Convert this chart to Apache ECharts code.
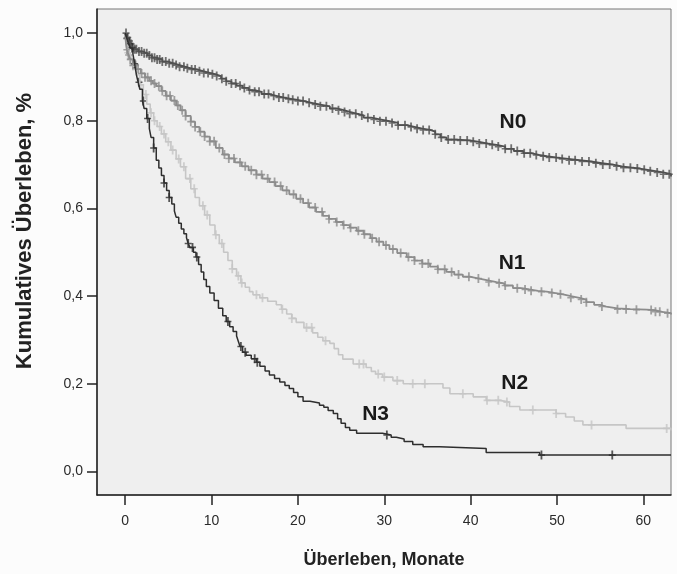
<!DOCTYPE html>
<html>
<head>
<meta charset="utf-8">
<script src="https://cdn.jsdelivr.net/npm/echarts@6/dist/echarts.min.js"></script>
<style>
html, body { margin: 0; padding: 0; background: #fcfcfc; }
#chart { width: 677px; height: 574px; }
</style>
</head>
<body>
<div id="chart"></div>
<script>
// axis ticks
var xTicks = [0, 10, 20, 30, 40, 50, 60];
var yTicks = [0, 0.2, 0.4, 0.6, 0.8, 1.0];

// Kaplan-Meier steps (Monate / kumulatives Ueberleben) and censored times
var n0Time = [0, 0.2, 0.4, 0.6, 0.8, 1.0, 1.5, 2.0, 2.6, 3.1, 3.6, 4.3, 5.0, 5.6, 6.3, 7.0, 7.5, 8.3, 9.0, 9.8, 10.5, 11.1, 11.7, 12.3, 12.9, 13.6, 14.3, 15.0, 15.8, 16.7, 17.5, 18.4, 19.2, 19.8, 20.7, 21.6, 22.6, 23.7, 24.5, 25.3, 26.0, 26.8, 27.6, 28.5, 29.5, 30.6, 31.6, 32.6, 33.5, 34.4, 35.3, 35.9, 36.5, 37.2, 38.4, 39.9, 41.0, 42.0, 43.0, 44.0, 45.0, 46.1, 47.0, 47.9, 48.8, 50.0, 51.3, 52.6, 53.9, 55.2, 56.5, 57.5, 58.6, 59.6, 60.5, 61.4, 62.3, 63.2];
var n0Surv = [1.0, 0.99, 0.982, 0.975, 0.968, 0.963, 0.958, 0.954, 0.949, 0.944, 0.94, 0.935, 0.931, 0.927, 0.923, 0.92, 0.917, 0.913, 0.909, 0.906, 0.902, 0.896, 0.89, 0.885, 0.88, 0.875, 0.87, 0.866, 0.861, 0.857, 0.853, 0.85, 0.848, 0.845, 0.841, 0.837, 0.833, 0.828, 0.824, 0.82, 0.816, 0.812, 0.807, 0.803, 0.799, 0.795, 0.79, 0.786, 0.782, 0.779, 0.775, 0.769, 0.762, 0.757, 0.755, 0.752, 0.748, 0.745, 0.741, 0.736, 0.731, 0.726, 0.722, 0.719, 0.716, 0.713, 0.71, 0.707, 0.703, 0.7, 0.696, 0.693, 0.691, 0.688, 0.685, 0.682, 0.678, 0.673];
var n0Cens = [0.1, 0.3, 0.5, 0.7, 0.9, 1.1, 1.3, 1.6, 1.9, 2.2, 2.5, 2.8, 3.1, 3.4, 3.7, 4.0, 4.3, 4.7, 5.1, 5.5, 5.9, 6.3, 6.8, 7.2, 7.7, 8.1, 8.6, 9.1, 9.6, 10.1, 10.6, 11.2, 11.7, 12.3, 12.8, 13.3, 13.8, 14.4, 15.0, 15.5, 16.1, 16.6, 17.2, 17.8, 18.3, 18.9, 19.4, 20.0, 20.6, 21.3, 22.0, 22.6, 23.3, 24.0, 24.7, 25.4, 26.0, 26.7, 27.4, 28.1, 28.8, 29.5, 30.2, 30.9, 31.6, 32.4, 33.1, 33.8, 34.5, 35.2, 35.9, 36.6, 37.4, 38.1, 38.8, 39.6, 40.3, 41.0, 41.8, 42.5, 43.2, 44.0, 44.7, 45.4, 46.2, 46.9, 47.6, 48.4, 49.1, 49.9, 50.6, 51.4, 52.1, 52.9, 53.7, 54.5, 55.3, 56.1, 56.9, 57.7, 58.5, 59.3, 60.1, 60.8, 61.6, 62.3, 63.0];

var n1Time = [0, 0.1, 0.2, 0.4, 0.6, 0.9, 1.3, 1.8, 2.3, 2.8, 3.2, 3.6, 4.2, 4.7, 5.3, 5.9, 6.4, 7.0, 7.6, 8.1, 8.6, 9.2, 9.8, 10.5, 11.3, 12.0, 12.7, 13.5, 14.3, 15.2, 15.9, 16.7, 17.4, 18.2, 19.0, 19.8, 20.6, 21.3, 22.1, 22.9, 23.6, 24.4, 25.2, 26.0, 26.8, 27.6, 28.4, 29.1, 29.9, 30.6, 31.5, 32.6, 33.5, 34.4, 35.3, 36.2, 37.2, 38.1, 39.1, 40.0, 41.0, 42.0, 43.0, 43.9, 44.9, 45.9, 46.8, 47.8, 48.8, 49.7, 50.7, 51.6, 52.6, 53.4, 54.3, 55.0, 55.7, 57.0, 58.5, 60.4, 61.3, 62.2, 63.2];
var n1Surv = [1.0, 0.975, 0.962, 0.95, 0.94, 0.927, 0.918, 0.908, 0.899, 0.891, 0.885, 0.879, 0.868, 0.857, 0.846, 0.835, 0.824, 0.811, 0.798, 0.786, 0.775, 0.764, 0.753, 0.738, 0.723, 0.714, 0.705, 0.696, 0.687, 0.677, 0.668, 0.66, 0.651, 0.641, 0.632, 0.622, 0.612, 0.602, 0.592, 0.583, 0.576, 0.569, 0.562, 0.556, 0.549, 0.541, 0.532, 0.524, 0.516, 0.507, 0.498, 0.489, 0.481, 0.474, 0.467, 0.461, 0.455, 0.449, 0.444, 0.44, 0.436, 0.432, 0.429, 0.424, 0.418, 0.415, 0.412, 0.41, 0.407, 0.404, 0.4, 0.396, 0.392, 0.386, 0.38, 0.376, 0.372, 0.37, 0.369, 0.368, 0.364, 0.361, 0.358];
var n1Cens = [0.2, 0.4, 0.6, 0.9, 1.2, 1.5, 1.9, 2.3, 2.6, 3.0, 3.4, 3.9, 4.3, 4.8, 5.2, 5.7, 6.1, 6.6, 7.0, 7.6, 8.1, 8.7, 9.2, 9.8, 10.3, 10.9, 11.5, 12.0, 12.6, 13.3, 13.9, 14.6, 15.2, 15.8, 16.5, 17.3, 18.0, 18.7, 19.5, 20.3, 21.2, 22.0, 22.8, 23.6, 24.5, 25.3, 26.1, 27.0, 27.7, 28.6, 29.4, 30.2, 31.0, 31.9, 32.8, 33.5, 34.4, 35.1, 36.2, 37.0, 37.8, 38.6, 39.8, 40.9, 42.1, 43.3, 44.0, 45.4, 46.3, 47.0, 48.2, 49.4, 50.4, 51.6, 52.8, 53.4, 55.2, 57.0, 58.0, 59.2, 60.9, 61.4, 61.9, 62.8];

var n2Time = [0, 0.1, 0.3, 0.6, 0.9, 1.3, 1.7, 2.1, 2.5, 2.9, 3.3, 3.7, 4.2, 4.7, 5.3, 5.9, 6.4, 7.0, 7.6, 8.1, 8.6, 9.2, 9.8, 10.4, 10.9, 11.4, 11.9, 12.4, 12.9, 13.4, 13.9, 14.4, 14.8, 15.6, 16.5, 17.5, 18.1, 18.7, 19.3, 19.8, 20.7, 21.7, 22.3, 22.9, 23.7, 24.2, 24.7, 25.2, 26.4, 27.9, 28.5, 29.0, 29.8, 31.0, 32.2, 36.8, 37.6, 40.3, 41.8, 43.4, 44.5, 45.7, 49.9, 51.0, 52.0, 53.0, 58.0, 63.2];
var n2Surv = [1.0, 0.975, 0.955, 0.94, 0.925, 0.905, 0.882, 0.86, 0.838, 0.818, 0.8, 0.787, 0.77, 0.752, 0.733, 0.713, 0.695, 0.668, 0.645, 0.625, 0.606, 0.585, 0.562, 0.54, 0.52, 0.5, 0.481, 0.462, 0.446, 0.43, 0.42, 0.41, 0.403, 0.396, 0.388, 0.38, 0.37, 0.359, 0.349, 0.34, 0.328, 0.316, 0.306, 0.298, 0.292, 0.28, 0.266, 0.256, 0.245, 0.237, 0.228, 0.222, 0.215, 0.207, 0.2, 0.19, 0.177, 0.17, 0.162, 0.158, 0.148, 0.14, 0.132, 0.124, 0.115, 0.106, 0.098, 0.093];
var n2Cens = [0.3, 0.6, 0.9, 1.2, 1.8, 2.4, 3.0, 3.4, 4.0, 4.5, 5.0, 5.5, 6.2, 6.8, 7.5, 8.0, 9.0, 9.5, 10.5, 11.2, 12.4, 13.1, 13.5, 15.2, 15.9, 18.2, 19.3, 21.0, 21.6, 23.2, 27.1, 27.6, 29.3, 30.0, 31.5, 33.3, 34.7, 39.1, 41.9, 43.2, 44.2, 47.2, 49.9, 54.0, 62.7];

var n3Time = [0, 0.2, 0.4, 0.6, 0.9, 1.1, 1.3, 1.5, 1.7, 2.0, 2.2, 2.5, 2.8, 3.0, 3.3, 3.6, 3.9, 4.2, 4.5, 4.8, 5.1, 5.4, 5.7, 5.9, 6.2, 6.5, 6.8, 7.1, 7.3, 7.5, 7.9, 8.2, 8.5, 8.8, 9.1, 9.4, 9.8, 10.3, 10.8, 11.3, 11.7, 12.1, 12.5, 12.9, 13.1, 13.3, 13.6, 14.0, 14.6, 15.2, 15.6, 16.2, 16.7, 17.3, 17.9, 18.5, 19.0, 19.5, 20.0, 20.6, 21.4, 22.5, 23.0, 23.5, 24.1, 24.6, 25.0, 25.5, 26.0, 26.8, 29.8, 30.8, 31.4, 32.3, 33.3, 34.5, 36.4, 41.8, 48.0, 63.2];
var n3Surv = [1.0, 0.988, 0.976, 0.966, 0.952, 0.93, 0.905, 0.888, 0.872, 0.845, 0.828, 0.805, 0.782, 0.762, 0.738, 0.71, 0.692, 0.675, 0.658, 0.641, 0.625, 0.61, 0.594, 0.58, 0.566, 0.553, 0.542, 0.533, 0.52, 0.511, 0.5, 0.489, 0.472, 0.455, 0.438, 0.422, 0.407, 0.39, 0.372, 0.355, 0.342, 0.33, 0.319, 0.309, 0.297, 0.285, 0.272, 0.265, 0.257, 0.249, 0.24, 0.229, 0.22, 0.212, 0.204, 0.196, 0.189, 0.18, 0.17, 0.16, 0.156, 0.151, 0.146, 0.139, 0.132, 0.12, 0.11, 0.1, 0.094, 0.087, 0.083, 0.078, 0.074, 0.068, 0.061, 0.056, 0.052, 0.043, 0.037, 0.037];
var n3Cens = [0.2, 0.5, 0.8, 1.1, 1.6, 2.1, 2.6, 3.3, 4.5, 5.1, 7.3, 7.8, 8.3, 11.9, 13.4, 13.9, 15.0, 15.3, 30.3, 48.2, 56.4];

var FONT = '"Liberation Sans", Arial, sans-serif';
var CROSS = 'path://M2,0h1.4v3.3h2v1.4h-2v3.3h-1.4v-3.3h-2v-1.4h2z';

function survAt(times, surv, t) {
    var s = surv[0];
    for (var i = 0; i < times.length; i++) {
        if (times[i] <= t) s = surv[i];
    }
    return s;
}

function buildSeries(name, times, surv, cens, color, width, label) {
    var line = {
        name: name,
        type: 'line',
        step: 'end',
        showSymbol: false,
        data: times.map(function (t, i) { return [t, surv[i]]; }),
        lineStyle: { color: color, width: width },
        markPoint: {
            symbol: 'rect',
            symbolSize: 1,
            itemStyle: { color: 'rgba(0,0,0,0)' },
            label: {
                show: true, position: 'inside', formatter: name,
                fontFamily: FONT, fontSize: 21, fontWeight: 'bold', color: '#1a1a1a'
            },
            data: [{ coord: label }]
        }
    };
    var marks = {
        name: name,
        type: 'scatter',
        symbol: CROSS,
        symbolSize: [7, 9],
        itemStyle: { color: color },
        data: cens.map(function (t) { return [t, survAt(times, surv, t)]; })
    };
    return [line, marks];
}

var myChart = echarts.init(document.getElementById('chart'));

var series = [].concat(
    buildSeries('N2', n2Time, n2Surv, n2Cens, '#c6c6c6', 1.6, [45.1, 0.2]),
    buildSeries('N1', n1Time, n1Surv, n1Cens, '#8c8c8c', 1.8, [44.8, 0.474]),
    buildSeries('N0', n0Time, n0Surv, n0Cens, '#505050', 1.8, [44.9, 0.797]),
    buildSeries('N3', n3Time, n3Surv, n3Cens, '#2e2e2e', 1.5, [29.0, 0.13])
);

myChart.setOption({
    animation: false,
    backgroundColor: '#fcfcfc',
    grid: {
        left: 97, right: 6, top: 9, bottom: 73,
        show: true, backgroundColor: '#efefef',
        borderColor: '#777', borderWidth: 1
    },
    xAxis: {
        type: 'value',
        min: -3.26, max: 63.2,
        name: 'Überleben, Monate',
        nameLocation: 'middle',
        nameGap: 56,
        nameTextStyle: { fontFamily: FONT, fontSize: 18, fontWeight: 'bold', color: '#222' },
        splitLine: { show: false },
        axisLine: { onZero: false, lineStyle: { color: '#222', width: 1.5 } },
        axisTick: { customValues: xTicks, length: 10, lineStyle: { color: '#222', width: 1.5 } },
        axisLabel: {
            customValues: xTicks, margin: 19,
            fontFamily: FONT, fontSize: 14, color: '#2a2a2a'
        }
    },
    yAxis: {
        type: 'value',
        min: -0.054, max: 1.055,
        splitLine: { show: false },
        axisLine: { show: true, onZero: false, lineStyle: { color: '#222', width: 1.5 } },
        axisTick: { show: true, customValues: yTicks, length: 10, lineStyle: { color: '#222', width: 1.5 } },
        axisLabel: {
            customValues: yTicks, margin: 14,
            fontFamily: FONT, fontSize: 14, color: '#2a2a2a',
            formatter: function (v) { return v.toFixed(1).replace('.', ','); }
        }
    },
    graphic: [{
        type: 'text',
        x: 25, y: 231,
        rotation: Math.PI / 2,
        style: {
            text: 'Kumulatives Überleben, %',
            font: 'bold 22px ' + FONT,
            fill: '#222',
            align: 'center',
            verticalAlign: 'middle'
        }
    }],
    series: series
});
</script>
</body>
</html>
